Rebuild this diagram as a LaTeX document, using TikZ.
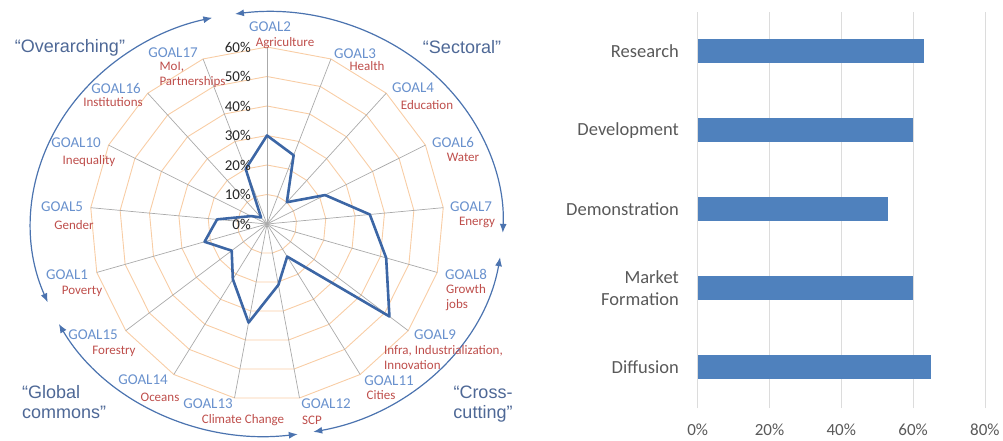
\documentclass[tikz,border=0pt]{standalone}
\usepackage{fontspec}
\setmainfont{Carlito}
\newfontfamily\groupfont{Liberation Sans}
\usetikzlibrary{positioning, arrows.meta}

\definecolor{gridorange}{RGB}{248,205,165}
\definecolor{spokegray}{RGB}{170,170,170}
\definecolor{goalblue}{RGB}{105,145,205}
\definecolor{namered}{RGB}{190,78,75}
\definecolor{lineblue}{RGB}{60,102,165}
\definecolor{arcblue}{RGB}{75,115,175}
\definecolor{groupblue}{RGB}{78,104,150}
\definecolor{barblue}{RGB}{79,129,189}
\definecolor{axisgray}{RGB}{89,89,89}
\definecolor{barlines}{RGB}{220,220,220}

\tikzset{
  goal/.style={text=goalblue, font=\fontsize{15}{16}\selectfont, inner sep=0pt},
  goalname/.style={text=namered, font=\fontsize{13}{15.5}\selectfont, inner sep=0pt, align=left},
  group/.style={text=groupblue, font=\groupfont\fontsize{18}{20}\selectfont, inner sep=0pt},
  tick/.style={text=black!85, font=\fontsize{15}{16}\selectfont, inner sep=0pt, anchor=east},
  grouparc/.style={arcblue, line width=1.2pt, {Latex[length=9pt,width=7pt]}-{Latex[length=9pt,width=7pt]}},
  bar/.style={fill=barblue, inner sep=0pt, anchor=west, minimum height=24pt},
  barlabel/.style={text=axisgray, font=\fontsize{18.5}{22}\selectfont, inner sep=0pt, align=right},
  axislabel/.style={text=axisgray, font=\fontsize{17}{18}\selectfont, inner sep=0pt},
}

\begin{document}
\begin{tikzpicture}[x=1pt, y=1pt]
    \useasboundingbox (0,0) rectangle (1003,440);

    \begin{scope}[shift={(267,216)}]
        \coordinate (centre) at (0,0);
        % Grid and spokes
        \foreach \r in {1,...,6} {
            \draw[gridorange, line width=0.9pt] (90:\r*29.5)
                \foreach \i in {1,...,16} { -- ({90-\i*360/17}:\r*29.5) } -- cycle;
        }
        \foreach \i in {0,...,16}
            \draw[spokegray, line width=0.7pt] (centre) -- ({90-\i*360/17}:177);

        % Scores
        \draw[lineblue, line width=2.6pt, line join=round] (90:30*2.95)
            \foreach \v [count=\i] in {25,10,22,35,42,52,13,21,34,22,15,22,17,6,3,20}
            { -- ({90-\i*360/17}:\v*2.95) } -- cycle;

        % Ticks
        \foreach \r in {0,...,6} {
            \pgfmathtruncatemacro{\pc}{\r*10}
            \node[tick] (tick\r) at (-16,\r*29.5) {\pc\%};
        }

        % Groups
        \draw[grouparc] (201.7:236 and 212) arc[start angle=201.7, end angle=103.4, x radius=236, y radius=212];
        \draw[grouparc] (97.8:236 and 212) arc[start angle=97.8, end angle=-2.4, x radius=236, y radius=212];
        \draw[grouparc] (-9:236 and 212) arc[start angle=-9, end angle=-78.7, x radius=236, y radius=212];
        \draw[grouparc] (208.1:236 and 212) arc[start angle=208.1, end angle=277.5, x radius=236, y radius=212];
    \end{scope}

    % Goal labels
    \foreach \g/\gx/\gy/\nx/\ny/\txt in {
        2/270/413/285/397/Agriculture, 3/355/386/367/374/Health,
        4/413/352/427/335/Education, 6/453/298/463/283/Water,
        7/471/233/477/218/Energy, 8/466/166/466/142.5/{Growth\\jobs},
        9/435/105/443.5/82.5/{Infra, Industrialization,\\Innovation},
        11/389/59/381/45/Cities, 12/326/36/312/20/SCP,
        13/208/36/243/20/Climate Change, 14/143/60/160/43/Oceans,
        15/93/105/114/89/Forestry, 1/67/165/82/149/Poverty,
        5/62/233/74/215/Gender, 10/76/297/89/279/Inequality,
        16/116/352/113/338/Institutions, 17/173/387/192.5/365/{MoI,\\Partnerships}} {
        \node[goal] (goal\g) at (\gx,\gy) {GOAL\g};
        \node[goalname] (name\g) at (\nx,\ny) {\txt};
    }

    \node[group] (overarching) at (70,392) {“Overarching”};
    \node[group] (sectoral) at (462,393) {“Sectoral”};
    \node[group, anchor=west, align=left] (commons) at (22,37.5) {“Global\\commons”};
    \node[group, align=center] (crosscutting) at (483,36) {“Cross-\\cutting”};

    % Bar chart
    \foreach \k in {0,...,4} {
        \pgfmathtruncatemacro{\pc}{\k*20}
        \draw[barlines, line width=0.8pt] ({697.7+\k*71.8},32) -- ({697.7+\k*71.8},428);
        \node[axislabel] (xtick\k) at ({697.7+\k*71.8},10) {\pc\%};
    }
    \foreach \name/\val [count=\k from 0] in {Research/63, Development/60,
        Demonstration/53, {Market\\Formation}/60, Diffusion/65} {
        \node[bar, minimum width=\val*3.59pt] (bar\k) at (697.7,{388.7-\k*78.85}) {};
        \node[barlabel, left=18.7pt of bar\k.west] (stage\k) {\name};
    }
\end{tikzpicture}
\end{document}
